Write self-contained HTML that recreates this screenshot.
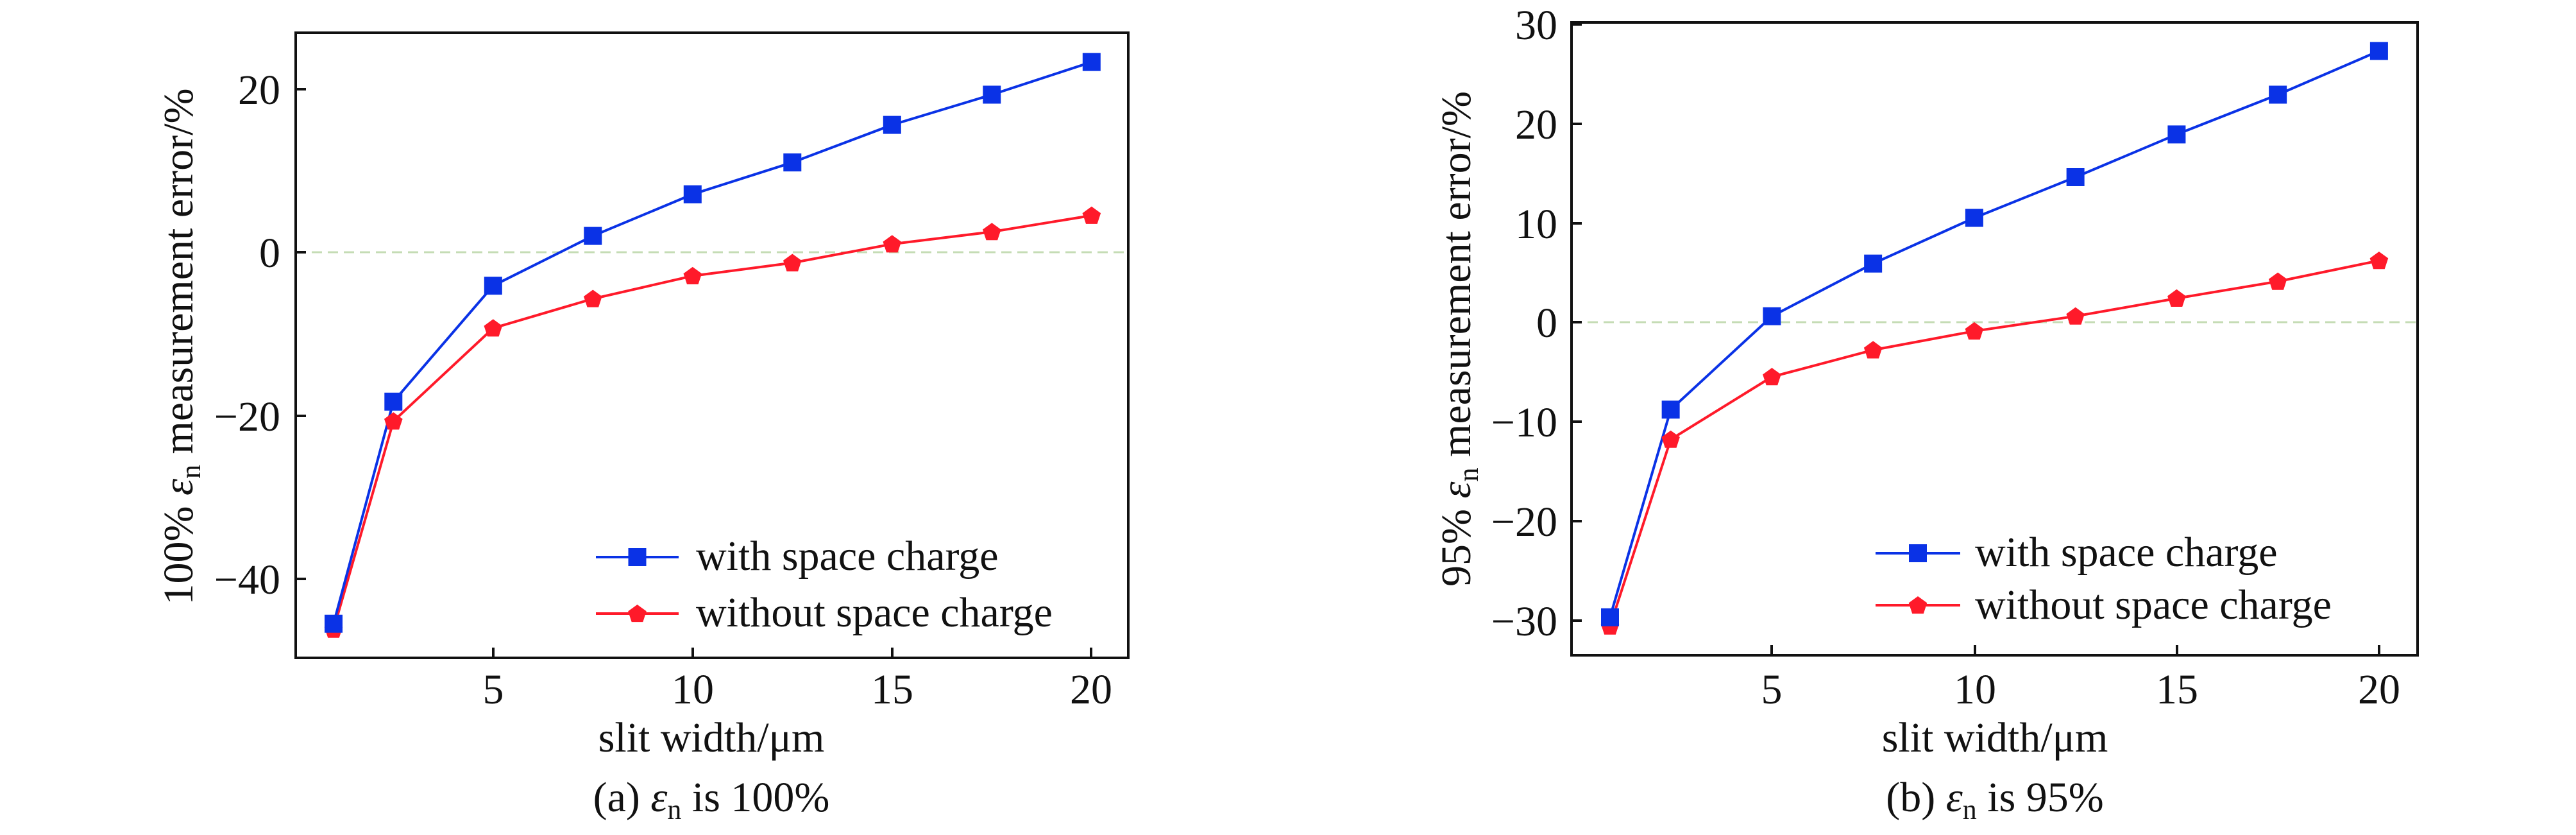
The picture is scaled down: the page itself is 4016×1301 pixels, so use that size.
<!DOCTYPE html>
<html><head><meta charset="utf-8"><style>
html,body{margin:0;padding:0;background:#fff}
svg{display:block}
text{font-family:"Liberation Serif","Times New Roman",serif;fill:#111}
</style></head><body>
<svg id="s" width="4016" height="1301" viewBox="0 0 4016 1301" xmlns="http://www.w3.org/2000/svg">
<rect width="4016" height="1301" fill="#fff"/>
<!-- Panel A -->
<line x1="461" y1="393" x2="1759" y2="393" stroke="#c5dcb5" stroke-width="3" stroke-dasharray="16,9"/>
<g id="pa"></g>
<rect x="461" y="51" width="1298" height="974" fill="none" stroke="#111" stroke-width="4"/>
<g stroke="#111" stroke-width="4">
<line x1="461" y1="139" x2="477" y2="139"/><line x1="461" y1="393" x2="477" y2="393"/><line x1="461" y1="648" x2="477" y2="648"/><line x1="461" y1="902" x2="477" y2="902"/>
<line x1="769" y1="1025" x2="769" y2="1009"/><line x1="1080" y1="1025" x2="1080" y2="1009"/><line x1="1391" y1="1025" x2="1391" y2="1009"/><line x1="1701" y1="1025" x2="1701" y2="1009"/>
</g>
<g font-size="66" text-anchor="end">
<text x="437" y="162">20</text><text x="437" y="416">0</text><text x="437" y="671">−20</text><text x="437" y="925">−40</text>
</g>
<g font-size="66" text-anchor="middle">
<text x="769" y="1096">5</text><text x="1080" y="1096">10</text><text x="1391" y="1096">15</text><text x="1701" y="1096">20</text>
<text x="1109" y="1171">slit width/μm</text>
<text x="1109" y="1264">(a) <tspan font-style="italic">ε</tspan><tspan font-size="44" dy="12">n</tspan><tspan dy="-12"> is 100%</tspan></text>
</g>
<text font-size="66" text-anchor="middle" transform="translate(300,540) rotate(-90)">100% <tspan font-style="italic">ε</tspan><tspan font-size="44" dy="12">n</tspan><tspan dy="-12"> measurement error/%</tspan></text>
<g font-size="66"><text x="1085" y="888">with space charge</text><text x="1085" y="976">without space charge</text></g>

<!-- Panel B -->
<line x1="2450" y1="502" x2="3769" y2="502" stroke="#c5dcb5" stroke-width="3" stroke-dasharray="16,9"/>
<g id="pb"></g>
<rect x="2450" y="35" width="1319" height="986" fill="none" stroke="#111" stroke-width="4"/>
<g stroke="#111" stroke-width="4">
<line x1="2450" y1="38" x2="2466" y2="38"/><line x1="2450" y1="193" x2="2466" y2="193"/><line x1="2450" y1="348" x2="2466" y2="348"/><line x1="2450" y1="502" x2="2466" y2="502"/><line x1="2450" y1="657" x2="2466" y2="657"/><line x1="2450" y1="812" x2="2466" y2="812"/><line x1="2450" y1="967" x2="2466" y2="967"/>
<line x1="2762" y1="1021" x2="2762" y2="1005"/><line x1="3079" y1="1021" x2="3079" y2="1005"/><line x1="3394" y1="1021" x2="3394" y2="1005"/><line x1="3709" y1="1021" x2="3709" y2="1005"/>
</g>
<g font-size="66" text-anchor="end">
<text x="2428" y="61">30</text><text x="2428" y="216">20</text><text x="2428" y="371">10</text><text x="2428" y="525">0</text><text x="2428" y="680">−10</text><text x="2428" y="835">−20</text><text x="2428" y="990">−30</text>
</g>
<g font-size="66" text-anchor="middle">
<text x="2762" y="1096">5</text><text x="3079" y="1096">10</text><text x="3394" y="1096">15</text><text x="3709" y="1096">20</text>
<text x="3110" y="1171">slit width/μm</text>
<text x="3110" y="1264">(b) <tspan font-style="italic">ε</tspan><tspan font-size="44" dy="12">n</tspan><tspan dy="-12"> is 95%</tspan></text>
</g>
<text font-size="66" text-anchor="middle" transform="translate(2292,528) rotate(-90)">95% <tspan font-style="italic">ε</tspan><tspan font-size="44" dy="12">n</tspan><tspan dy="-12"> measurement error/%</tspan></text>
<g font-size="66"><text x="3079" y="882">with space charge</text><text x="3079" y="964">without space charge</text></g>
</svg>
<script>
(function(){
var NS="http://www.w3.org/2000/svg",B="#0a32e6",R="#ff1a2a";
var xs=[1,2.5,5,7.5,10,12.5,15,17.5,20];
function el(g,t,a){var e=document.createElementNS(NS,t);for(var k in a)e.setAttribute(k,a[k]);g.appendChild(e);return e;}
function sq(g,x,y){el(g,"rect",{x:x-14,y:y-14,width:28,height:28,fill:B});}
function pent(g,x,y){var p=[];for(var i=0;i<5;i++){var a=-Math.PI/2+i*2*Math.PI/5;p.push((x+15*Math.cos(a)).toFixed(1)+","+(y+15*Math.sin(a)+1).toFixed(1));}el(g,"polygon",{points:p.join(" "),fill:R});}
function draw(id,x1,xu,y0,yu,blue,red,leg){
var g=document.getElementById(id);
function P(a){return xs.map(function(x,i){return[x1+(x-1)*xu,y0-a[i]*yu];});}
var pb=P(blue),pr=P(red);
el(g,"polyline",{points:pr.map(function(p){return p.join(",")}).join(" "),fill:"none",stroke:R,"stroke-width":4});
el(g,"polyline",{points:pb.map(function(p){return p.join(",")}).join(" "),fill:"none",stroke:B,"stroke-width":4});
pr.forEach(function(p){pent(g,p[0],p[1]);});
pb.forEach(function(p){sq(g,p[0],p[1]);});
el(g,"line",{x1:leg[0],y1:leg[2],x2:leg[1],y2:leg[2],stroke:B,"stroke-width":4});
sq(g,(leg[0]+leg[1])/2,leg[2]);
el(g,"line",{x1:leg[0],y1:leg[3],x2:leg[1],y2:leg[3],stroke:R,"stroke-width":4});
pent(g,(leg[0]+leg[1])/2,leg[3]);
}
draw("pa",520,62.2,393,12.72,
[-45.5,-18.3,-4.1,2.0,7.1,11.0,15.6,19.3,23.3],
[-46.2,-20.7,-9.3,-5.7,-2.9,-1.3,1.0,2.5,4.5],[929,1058,868,956]);
draw("pb",2510,63.1,502,15.48,
[-29.7,-8.8,0.6,5.9,10.5,14.6,18.9,22.9,27.3],
[-30.6,-11.8,-5.5,-2.8,-0.9,0.6,2.4,4.1,6.2],[2924,3056,862,943]);
})();
</script>
</body></html>
